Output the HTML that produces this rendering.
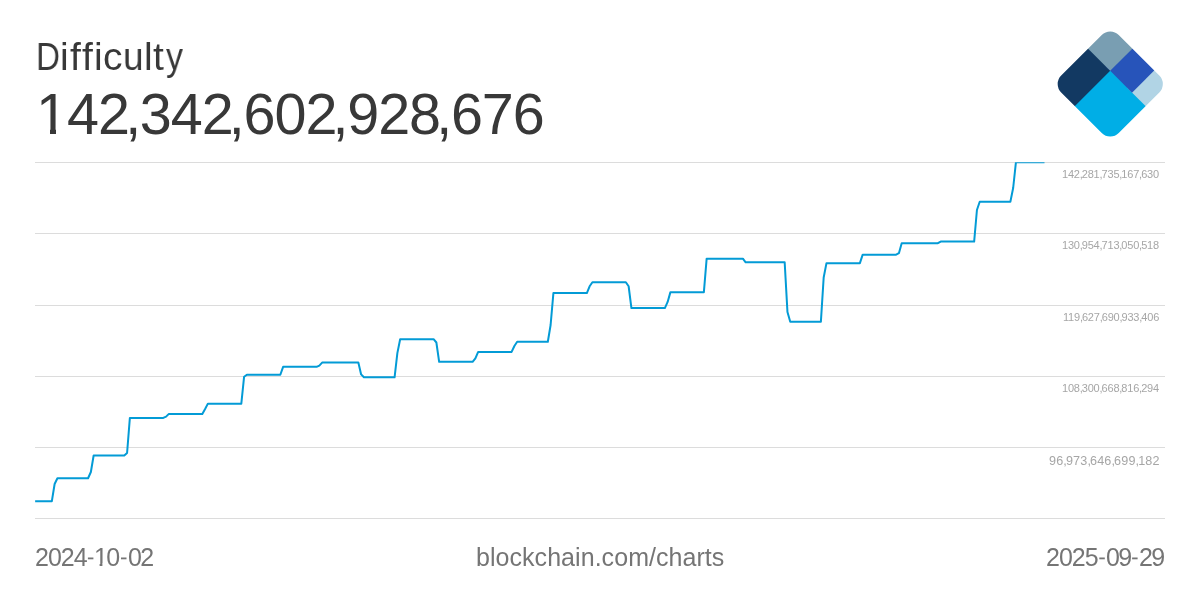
<!DOCTYPE html>
<html><head><meta charset="utf-8">
<style>
html,body{margin:0;padding:0;background:#fff;}
body{width:1200px;height:600px;position:relative;overflow:hidden;font-family:"Liberation Sans",sans-serif;}
.t,.lab{will-change:transform;}
.t{position:absolute;white-space:nowrap;line-height:1;}
.tl{position:absolute;top:37px;font-size:39px;color:#383838;line-height:1;transform-origin:0 0;will-change:transform;}
#value{left:36px;top:86px;font-size:57.5px;color:#383838;letter-spacing:-1.0px;}
.c{letter-spacing:-1.4px;margin-left:-3.8px;}
.lab{position:absolute;right:41px;font-size:11px;color:#a6a6a6;line-height:1;margin-top:7px;white-space:nowrap;letter-spacing:-0.2px;}
.lab i{font-style:normal;letter-spacing:-1.05px;}
.l4{font-size:12.6px;margin-top:7.7px;letter-spacing:0.15px;right:40.3px;}
.l4 i{letter-spacing:-0.9px;}
#d1{left:35px;top:545px;font-size:25px;color:#757575;letter-spacing:-0.5px;}
.dc{position:absolute;white-space:nowrap;line-height:1;font-size:25px;color:#757575;top:545px;letter-spacing:-0.6px;will-change:transform;}
.hy{position:absolute;background:#757575;top:557.5px;height:1.8px;width:5.5px;}
#src{left:476px;top:545px;font-size:25px;color:#757575;letter-spacing:0.05px;}
#d2{right:36px;top:545px;font-size:25px;color:#757575;letter-spacing:-0.75px;}
svg{position:absolute;left:0;top:0;}
</style></head><body>
<svg width="1200" height="600" viewBox="0 0 1200 600">
<rect x="35" y="162" width="1130" height="1" fill="#dcdcdc"/><rect x="35" y="233" width="1130" height="1" fill="#dcdcdc"/><rect x="35" y="305" width="1130" height="1" fill="#dcdcdc"/><rect x="35" y="376" width="1130" height="1" fill="#dcdcdc"/><rect x="35" y="447" width="1130" height="1" fill="#dcdcdc"/><rect x="35" y="518" width="1130" height="1" fill="#dcdcdc"/>
<defs><clipPath id="pc"><rect x="0" y="162.2" width="1200" height="400"/></clipPath></defs>
<path d="M35.13,501.19 L51.85,501.19 L54.63,484.00 L57.42,478.26 L88.07,478.26 L90.86,472.00 L93.64,455.48 L124.29,455.48 L127.08,453.00 L129.87,417.91 L163.30,417.91 L166.09,416.60 L168.88,413.88 L202.31,413.88 L205.10,409.00 L207.89,403.64 L241.32,403.64 L244.11,376.70 L246.90,374.72 L280.33,374.72 L283.12,366.80 L316.56,366.80 L319.34,365.60 L322.13,362.59 L358.35,362.59 L361.14,374.40 L363.93,377.30 L394.58,377.30 L397.36,353.10 L400.15,339.21 L433.59,339.21 L436.37,342.50 L439.16,361.84 L472.59,361.84 L475.38,358.30 L478.17,351.90 L511.60,351.90 L514.39,346.00 L517.18,341.78 L547.83,341.78 L550.61,325.00 L553.40,293.07 L586.84,293.07 L589.62,286.30 L592.41,282.26 L625.85,282.26 L628.63,286.25 L631.42,308.09 L664.86,308.09 L667.64,301.90 L670.43,292.13 L703.87,292.13 L706.65,258.68 L742.88,258.68 L745.66,262.27 L784.67,262.27 L787.46,312.00 L790.24,321.67 L820.89,321.67 L823.68,277.50 L826.47,263.15 L859.90,263.15 L862.69,254.66 L896.13,254.66 L898.91,253.20 L901.70,243.22 L937.92,243.22 L940.71,241.59 L974.15,241.59 L976.93,210.00 L979.72,201.73 L1010.37,201.73 L1013.16,188.00 L1015.94,162.13 L1044.50,162.13" fill="none" stroke="#039bd6" stroke-width="2" stroke-linejoin="round" clip-path="url(#pc)"/>
<g transform="translate(1110.25,26.45) rotate(45)">
 <mask id="lc" maskUnits="userSpaceOnUse" x="-5" y="-5" width="92" height="92"><rect x="0" y="0" width="81.4" height="81.4" rx="12" ry="12" fill="#fff"/></mask>
 <g mask="url(#lc)">
  <rect x="-1" y="-1" width="84" height="84" fill="#00aee6"/>
  <rect x="-1" y="25" width="32.3" height="58" fill="#123962"/>
  <rect x="55" y="-1" width="28" height="32.4" fill="#b1d4e5"/>
  <rect x="25" y="-1" width="37.2" height="32.4" fill="#2754ba"/>
  <rect x="-1" y="-1" width="32.3" height="32.4" fill="#799eb2"/>
 </g>
</g>
</svg>
<div class="tl" style="left:35.57px;transform:scaleX(0.853)">D</div><div class="tl" style="left:60.39px">i</div><div class="tl" style="left:69.75px">f</div><div class="tl" style="left:82.45px">f</div><div class="tl" style="left:94.39px">i</div><div class="tl" style="left:103.34px">c</div><div class="tl" style="left:123.47px;transform:scaleX(0.95)">u</div><div class="tl" style="left:144.4px">l</div><div class="tl" style="left:152.71px">t</div><div class="tl" style="left:165.8px;transform:scaleX(0.87)">y</div>
<div class="t" id="value">142<span class="c">,</span>342<span class="c">,</span>602<span class="c">,</span>928<span class="c">,</span>676</div>
<div style="position:absolute;left:38px;top:128px;width:12.4px;height:8px;background:#fff;will-change:transform"></div><div style="position:absolute;left:56.4px;top:128px;width:10px;height:8px;background:#fff;will-change:transform"></div>
<div class="lab" style="top:162px">142<i>,</i>281<i>,</i>735<i>,</i>167<i>,</i>630</div><div class="lab" style="top:233px">130<i>,</i>954<i>,</i>713<i>,</i>050<i>,</i>518</div><div class="lab" style="top:305px">119<i>,</i>627<i>,</i>690<i>,</i>933<i>,</i>406</div><div class="lab" style="top:376px">108<i>,</i>300<i>,</i>668<i>,</i>816<i>,</i>294</div><div class="lab l4" style="top:447px">96<i>,</i>973<i>,</i>646<i>,</i>699<i>,</i>182</div>
<div class="dc" style="left:34.74px;letter-spacing:-1.0px">2024</div><svg width="1200" height="600" style="position:absolute;left:0;top:0"><rect x="87.90" y="557.5" width="5.5" height="1.8" fill="#757575"/></svg><div class="dc" style="left:93.50px;letter-spacing:-1.6px">10</div><svg width="1200" height="600" style="position:absolute;left:0;top:0"><rect x="121.00" y="557.5" width="5.5" height="1.8" fill="#757575"/></svg><div class="dc" style="left:127.82px;letter-spacing:-1.6px">02</div><svg width="1200" height="600" style="position:absolute;left:0;top:0"><rect x="94.5" y="563.4" width="5.1" height="3.6" fill="#fff"/><rect x="102.4" y="563.4" width="4.6" height="3.6" fill="#fff"/></svg>
<div class="t" id="src">blockchain.com/charts</div>
<div class="dc" style="left:1046.49px;letter-spacing:-1.0px">2025</div><svg width="1200" height="600" style="position:absolute;left:0;top:0"><rect x="1099.30" y="557.5" width="5.5" height="1.8" fill="#757575"/></svg><div class="dc" style="left:1106.02px;letter-spacing:-1.6px">09</div><svg width="1200" height="600" style="position:absolute;left:0;top:0"><rect x="1132.10" y="557.5" width="5.5" height="1.8" fill="#757575"/></svg><div class="dc" style="left:1138.74px;letter-spacing:-1.6px">29</div>
</body></html>
